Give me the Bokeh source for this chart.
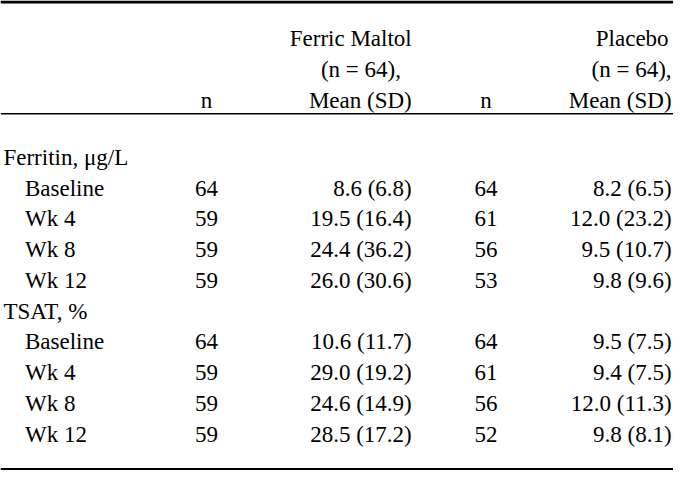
from bokeh.plotting import figure
from bokeh.models import ColumnDataSource, Range1d
from bokeh.core.properties import value
from bokeh.embed import file_html
from bokeh.resources import INLINE

# ---- data ----
groups = ["Ferritin, \u03bcg/L", "TSAT, %"]
timepoints = ["Baseline", "Wk 4", "Wk 8", "Wk 12"]
fm_n = [64, 59, 59, 59, 64, 59, 59, 59]
fm_mean = [8.6, 19.5, 24.4, 26.0, 10.6, 29.0, 24.6, 28.5]
fm_sd = [6.8, 16.4, 36.2, 30.6, 11.7, 19.2, 14.9, 17.2]
pl_n = [64, 61, 56, 53, 64, 61, 56, 52]
pl_mean = [8.2, 12.0, 9.5, 9.8, 9.5, 9.4, 12.0, 9.8]
pl_sd = [6.5, 23.2, 10.7, 9.6, 7.5, 7.5, 11.3, 8.1]
header_fm = ["Ferric Maltol", "(n = 64),", "Mean (SD)"]
header_pl = ["Placebo", "(n = 64),", "Mean (SD)"]
header_n = "n"

# ---- layout (reference pixel space) ----
W, H = 689, 486
FONT = value("Liberation Serif")
FS = "23px"

p = figure(width=673, height=470, output_backend="svg", toolbar_location=None,
           x_range=Range1d(0, W), y_range=Range1d(H, 0), min_border=0,
           tools="")
p.xaxis.visible = False
p.yaxis.visible = False
p.xgrid.visible = False
p.ygrid.visible = False
p.outline_line_color = None
p.background_fill_color = "white"
p.border_fill_color = "white"

# rules
p.segment(x0=[0], y0=[1.5], x1=[W], y1=[1.5], line_color="black", line_width=3)
p.segment(x0=[0], y0=[117], x1=[W], y1=[117], line_color="black", line_width=1.5)
p.segment(x0=[0], y0=[484.5], x1=[W], y1=[484.5], line_color="black", line_width=2)

def txt(xs, ys, texts, align):
    src = ColumnDataSource(dict(x=xs, y=ys, t=texts))
    p.text(x="x", y="y", text="t", source=src, text_font=FONT,
           text_font_size=FS, text_align=align, text_baseline="alphabetic",
           text_color="black")

# header
hy = [39, 71, 103]
txt([421, 410, 421], hy, header_fm, "right")
txt([684, 687, 687], hy, header_pl, "right")
txt([211, 497], [103, 103], [header_n, header_n], "center")

# body
row0, step = 162.3, 31.8
labels, lx, ly = [], [], []
cy = []
r = 0
for g in groups:
    labels.append(g); lx.append(3); ly.append(row0 + r * step); r += 1
    for t in timepoints:
        labels.append(t); lx.append(25); ly.append(row0 + r * step)
        cy.append(row0 + r * step)
        r += 1
txt(lx, ly, labels, "left")

txt([211] * len(fm_n), cy, [str(v) for v in fm_n], "center")
txt([421] * len(fm_n), cy, [f"{m:.1f} ({s:.1f})" for m, s in zip(fm_mean, fm_sd)], "right")
txt([497] * len(pl_n), cy, [str(v) for v in pl_n], "center")
txt([687] * len(pl_n), cy, [f"{m:.1f} ({s:.1f})" for m, s in zip(pl_mean, pl_sd)], "right")

open("out.html", "w").write(file_html(p, INLINE))
